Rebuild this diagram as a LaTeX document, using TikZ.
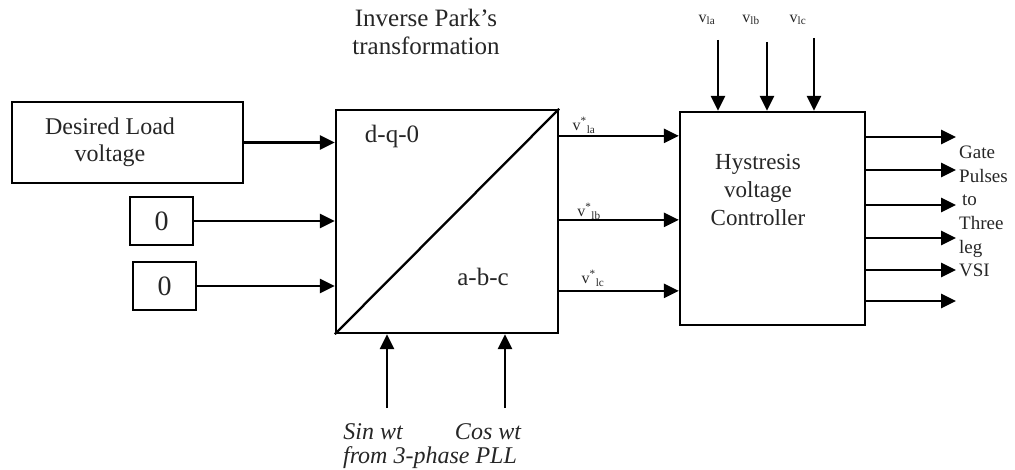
\documentclass[tikz,border=0pt]{standalone}
\usepackage{fontspec}
\setmainfont{Liberation Serif}
\usetikzlibrary{arrows.meta,calc}
\begin{document}
\begin{tikzpicture}[x=1pt,y=-1pt,
  blk/.style={draw=black,line width=2.3pt,fill=white,inner sep=0pt},
  arr/.style={line width=2.6pt,-{Triangle[length=15pt,width=14pt]}},
  lbl/.style={text=black!85,inner sep=0pt},
  big/.style={font=\fontsize{24}{27}\selectfont},
  sml/.style={font=\fontsize{16}{18}\selectfont},
  gate/.style={font=\fontsize{19}{23.6}\selectfont}]
\useasboundingbox (0,0) rectangle (1015,470);
% blocks
\node[blk,minimum width=231pt,minimum height=81pt] (des) at (127.5,142.5) {};
\node[lbl,big,align=center] (destxt) at (110,142) {Desired Load\\voltage};
\node[blk,minimum width=63pt,minimum height=48pt] (z1) at (161.5,221) {};
\node[lbl,font=\fontsize{28}{30}\selectfont] (z1t) at (161.5,221) {0};
\node[blk,minimum width=63pt,minimum height=48pt] (z2) at (164.5,286) {};
\node[lbl,font=\fontsize{28}{30}\selectfont] (z2t) at (164.5,286) {0};
\node[blk,minimum width=222pt,minimum height=223pt] (park) at (447,221.5) {};
\draw[line width=2.3pt] (park.south west) -- (park.north east);
\node[lbl,font=\fontsize{25}{28}\selectfont] (dq0) at (392,136) {d-q-0};
\node[lbl,font=\fontsize{25}{28}\selectfont] (abc) at (483,277) {a-b-c};
\node[lbl,font=\fontsize{25}{28}\selectfont,align=center] (title) at (426,32) {Inverse Park's\\transformation};
\node[blk,minimum width=185pt,minimum height=213pt] (hyst) at (772.5,218.5) {};
\node[lbl,font=\fontsize{23}{27.5}\selectfont,align=center] (hysttxt) at (758,190) {Hystresis\\voltage\\Controller};
% inputs to park
\draw[arr] (des.east) -- (des.east -| park.west);
\draw[arr] (z1.east) -- (z1.east -| park.west);
\draw[arr] (z2.east) -- (z2.east -| park.west);
% park to hyst
\coordinate (pa) at ($(park.north east)+(0,27)$);
\coordinate (pb) at ($(park.north east)+(0,111)$);
\coordinate (pc) at ($(park.north east)+(0,182)$);
\draw[arr] (pa) -- (pa -| hyst.west);
\draw[arr] (pb) -- (pb -| hyst.west);
\draw[arr] (pc) -- (pc -| hyst.west);
\node[lbl,sml] (la) at (584,125) {v\textsuperscript{*}\textsubscript{la}};
\node[lbl,sml] (lb) at (589,211) {v\textsuperscript{*}\textsubscript{lb}};
\node[lbl,sml] (lc) at (593,278) {v\textsuperscript{*}\textsubscript{lc}};
% top inputs
\coordinate (ta) at (718,40);
\coordinate (tb) at (767,42);
\coordinate (tc) at (814,38);
\draw[arr] (ta) -- (ta |- hyst.north);
\draw[arr] (tb) -- (tb |- hyst.north);
\draw[arr] (tc) -- (tc |- hyst.north);
\node[lbl,sml] (va) at (707,20) {v\textsubscript{la}};
\node[lbl,sml] (vb) at (751,20) {v\textsubscript{lb}};
\node[lbl,sml] (vc) at (798,20) {v\textsubscript{lc}};
% outputs
\foreach \n/\yy in {1/137,2/170,3/205,4/238,5/270,6/301}{
  \coordinate (o\n) at (956,\yy);
  \draw[arr] (o\n -| hyst.east) -- (o\n);
}
\node[lbl,gate,align=left,anchor=north west] (gatetxt) at (959,146) {Gate\\Pulses\\\hspace{3pt}to\\Three\\leg\\VSI};
% bottom inputs
\coordinate (ba) at (387,408);
\coordinate (bb) at (505,408);
\draw[arr] (ba) -- (ba |- park.south);
\draw[arr] (bb) -- (bb |- park.south);
\node[lbl,font=\fontsize{24}{27}\selectfont\itshape] (sin) at (373,432) {Sin wt};
\node[lbl,font=\fontsize{24}{27}\selectfont\itshape] (cos) at (488,432) {Cos wt};
\node[lbl,font=\fontsize{24}{27}\selectfont\itshape] (pll) at (430,458) {from 3-phase PLL};
\end{tikzpicture}
\end{document}
